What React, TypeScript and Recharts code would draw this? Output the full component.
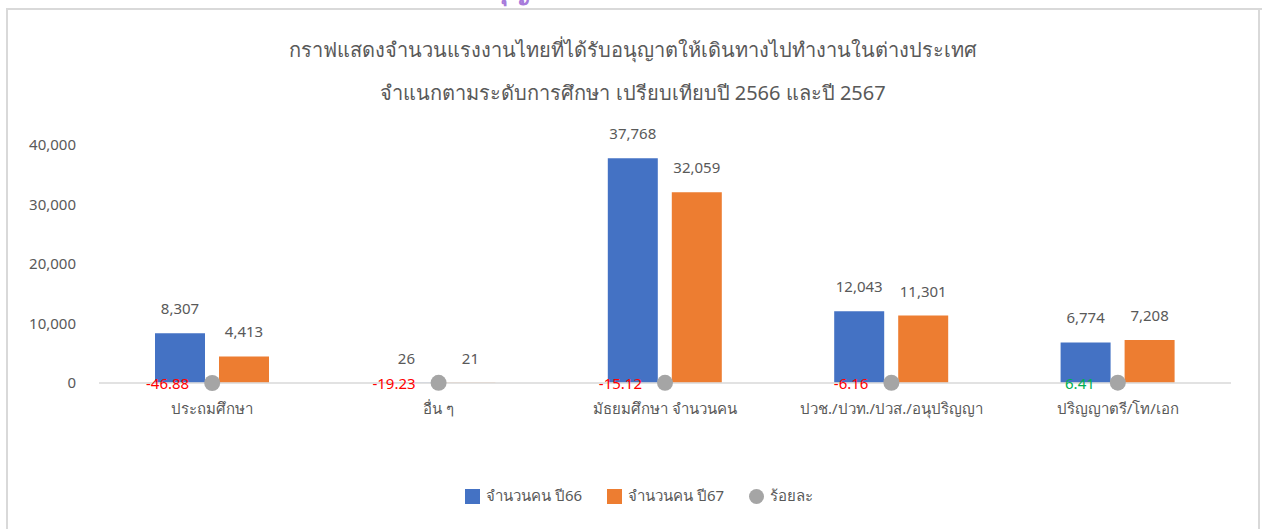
import React from "react";
import { ComposedChart, Bar, Line, XAxis, YAxis, LabelList } from "recharts";

const categories = [
  "ประถมศึกษา",
  "อื่น ๆ",
  "มัธยมศึกษา  จำนวนคน",
  "ปวช./ปวท./ปวส./อนุปริญญา",
  "ปริญญาตรี/โท/เอก",
];
const workers66 = [8307, 26, 37768, 12043, 6774];
const workers67 = [4413, 21, 32059, 11301, 7208];
const percentChange = [-46.88, -19.23, -15.12, -6.16, 6.41];
const yTicks = [0, 10000, 20000, 30000, 40000];

const headerText = "จำนวนแรงงานไทยที่ได้รับอนุญาตให้เดินทางไปทำงานต่างประเทศ ปี 2566 - 2567";
const titleLines = [
  "กราฟแสดงจำนวนแรงงานไทยที่ได้รับอนุญาตให้เดินทางไปทำงานในต่างประเทศ",
  "จำแนกตามระดับการศึกษา เปรียบเทียบปี 2566 และปี 2567",
];
const legendItems = [
  { label: "จำนวนคน ปี66", color: "#4472C4", shape: "square" },
  { label: "จำนวนคน ปี67", color: "#ED7D31", shape: "square" },
  { label: "ร้อยละ", color: "#A5A5A5", shape: "circle" },
];

const data = categories.map((name, i) => ({
  name,
  y66: workers66[i],
  y67: workers67[i],
  pct: percentChange[i],
}));

const FONT = "'Noto Sans', Tahoma, sans-serif";
const TEXT = "#595959";
const FRAME = "#D9D9D9";

const fmt = (v: number) => v.toLocaleString("en-US");

function PctLabel(props: any) {
  const { x, y, value } = props;
  return (
    <text
      x={x - 23}
      y={y + 2}
      textAnchor="end"
      dominantBaseline="middle"
      fill={value < 0 ? "#FF0000" : "#00B050"}
      fontSize={15}
      fontFamily={FONT}
    >
      {value.toFixed(2)}
    </text>
  );
}

export default function App() {
  return (
    <div style={{ position: "fixed", left: 0, top: 0, width: 1262, height: 529, overflow: "hidden", background: "#fff", fontFamily: FONT }}>
      <div style={{ position: "absolute", left: 0, top: 0 }}>
        <ComposedChart
          width={1262}
          height={529}
          data={data}
          barGap={14}
          margin={{ top: 145, right: 31, bottom: 116, left: 29 }}
        >
          <XAxis
            dataKey="name"
            height={30}
            tick={{ fill: TEXT, fontSize: 15, fontFamily: FONT }}
            axisLine={{ stroke: FRAME, strokeWidth: 1.5 }}
            tickLine={false}
            tickMargin={14}
            interval={0}
          />
          <YAxis
            width={70}
            domain={[0, 40000]}
            ticks={yTicks}
            tickFormatter={fmt}
            tick={{ fill: TEXT, fontSize: 15, fontFamily: FONT }}
            axisLine={false}
            tickLine={false}
            tickMargin={17}
          />
          <Bar dataKey="y66" fill="#4472C4" barSize={50} isAnimationActive={false}>
            <LabelList
              dataKey="y66"
              position="top"
              offset={19}
              formatter={(v: any) => fmt(Number(v))}
              fill={TEXT}
              fontSize={15}
              fontFamily={FONT}
            />
          </Bar>
          <Bar dataKey="y67" fill="#ED7D31" barSize={50} isAnimationActive={false}>
            <LabelList
              dataKey="y67"
              position="top"
              offset={19}
              formatter={(v: any) => fmt(Number(v))}
              fill={TEXT}
              fontSize={15}
              fontFamily={FONT}
            />
          </Bar>
          <Line
            dataKey="pct"
            stroke="none"
            dot={{ r: 8, fill: "#A5A5A5", stroke: "none", clipDot: false } as any}
            activeDot={false}
            isAnimationActive={false}
          >
            <LabelList dataKey="pct" content={PctLabel} />
          </Line>
        </ComposedChart>
      </div>
      <div style={{ position: "absolute", left: 6, top: 8, width: 1256, height: 2, background: FRAME }} />
      <div style={{ position: "absolute", left: 6, top: 8, width: 2, height: 530, background: FRAME }} />
      <div style={{ position: "absolute", left: 1258, top: 8, width: 2, height: 530, background: FRAME }} />
      <svg width={1262} height={529} style={{ position: "absolute", left: 0, top: 0, pointerEvents: "none" }}>
        <text
          x={637}
          y={-1}
          textAnchor="middle"
          fill="#A77BDB"
          fontWeight={700}
          fontSize={26}
          fontFamily={FONT}
        >
          {headerText}
        </text>
        {titleLines.map((t, i) => (
          <text
            key={t}
            x={633}
            y={57 + i * 43}
            textAnchor="middle"
            fill={TEXT}
            fontSize={20}
            fontFamily={FONT}
          >
            {t}
          </text>
        ))}
      </svg>
      <div
        style={{
          position: "absolute",
          top: 484,
          left: 465,
          display: "flex",
          alignItems: "center",
          fontSize: 15,
          color: TEXT,
          whiteSpace: "nowrap",
        }}
      >
        {legendItems.map((it) => (
          <div key={it.label} style={{ display: "flex", alignItems: "center", marginRight: 25 }}>
            <span
              style={{
                display: "inline-block",
                width: 15,
                height: 15,
                background: it.color,
                borderRadius: it.shape === "circle" ? "50%" : 0,
                marginRight: 6,
              }}
            />
            <span>{it.label}</span>
          </div>
        ))}
      </div>
    </div>
  );
}
